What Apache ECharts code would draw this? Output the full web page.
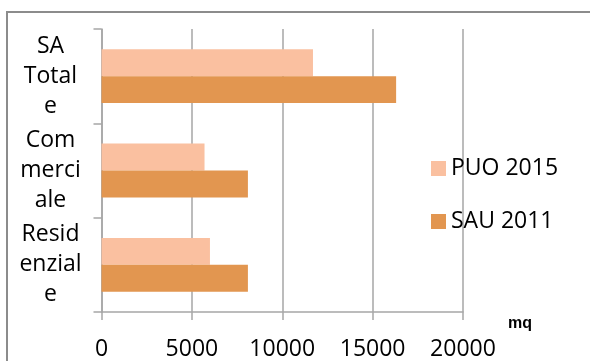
<!DOCTYPE html>
<html>
<head>
<meta charset="utf-8">
<script src="https://cdn.jsdelivr.net/npm/echarts@6/dist/echarts.min.js"></script>
<style>
  html, body { margin: 0; padding: 0; background: #fff; }
  #chart { width: 590px; height: 361px; }
</style>
</head>
<body>
<div id="chart"></div>
<script>
// Categories listed bottom to top (category axis starts at the bottom)
const categories = ['Resid\nenzial\ne', 'Com\nmerci\nale', 'SA\nTotal\ne'];
const puo2015 = [6000, 5700, 11700];
const sau2011 = [8100, 8100, 16300];
const xTicks = [0, 5000, 10000, 15000, 20000];

const FONT = 'Open Sans';
const GRAY = '#a6a6a6';

const chart = echarts.init(document.getElementById('chart'), null, { renderer: 'canvas' });

chart.setOption({
  animation: false,
  backgroundColor: '#ffffff',
  textStyle: { fontFamily: FONT },
  graphic: [{
    type: 'rect',
    shape: { x: 7, y: 12, width: 620, height: 400 },
    style: { fill: 'none', stroke: '#8c8c8c', lineWidth: 2 },
    silent: true
  }],
  grid: { left: 101.5, right: 127, top: 29, bottom: 49, containLabel: false },
  legend: {
    orient: 'vertical',
    left: 426,
    top: 148.5,
    itemWidth: 15,
    itemHeight: 15,
    itemGap: 23,
    icon: 'rect',
    data: ['PUO 2015', 'SAU 2011'],
    textStyle: { fontFamily: FONT, fontSize: 23, color: '#000', lineHeight: 30 }
  },
  xAxis: {
    type: 'value',
    min: xTicks[0],
    max: xTicks[xTicks.length - 1],
    interval: 5000,
    name: 'mq',
    nameLocation: 'end',
    nameGap: 45,
    nameTextStyle: { fontFamily: 'Liberation Sans', fontSize: 16, fontWeight: 'bold', color: '#000',
      align: 'left', verticalAlign: 'top', padding: [4, 0, 0, 0] },
    axisLine: { show: true, lineStyle: { color: GRAY, width: 1.5 } },
    axisTick: { show: true, length: 8, lineStyle: { color: GRAY, width: 1.5 } },
    axisLabel: { fontFamily: FONT, fontSize: 23, color: '#000', margin: 26,
      formatter: v => String(v) },
    splitLine: { show: true, lineStyle: { color: GRAY, width: 1.5 } }
  },
  yAxis: {
    type: 'category',
    data: categories,
    axisLine: { show: true, lineStyle: { color: GRAY, width: 1.5 } },
    axisTick: { show: true, length: 8, inside: false, lineStyle: { color: GRAY, width: 1.5 } },
    axisLabel: { fontFamily: FONT, fontSize: 23, color: '#000', align: 'center',
      margin: 51, lineHeight: 30 },
    splitLine: { show: false }
  },
  series: [
    {
      name: 'PUO 2015',
      type: 'bar',
      data: puo2015,
      barGap: '0%',
      barCategoryGap: '43%',
      itemStyle: { color: '#fac0a0' }
    },
    {
      name: 'SAU 2011',
      type: 'bar',
      data: sau2011,
      barGap: '0%',
      barCategoryGap: '43%',
      itemStyle: { color: '#e29650' }
    }
  ]
});
</script>
</body>
</html>
